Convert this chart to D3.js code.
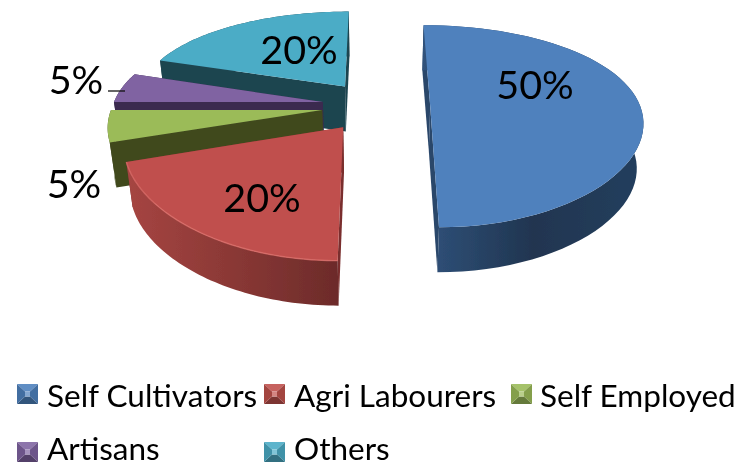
<!DOCTYPE html>
<html><head><meta charset="utf-8">
<script src="https://cdn.jsdelivr.net/npm/d3@7"></script>
<style>html,body{margin:0;padding:0;background:#fff;overflow:hidden}svg{display:block}text{font-family:Lato,"Open Sans",sans-serif;fill:#000}</style>
</head><body>
<svg id="c" width="753" height="466"></svg>
<script>
const categories = ["Self Cultivators","Agri Labourers","Self Employed","Artisans","Others"];
const values = [50,20,5,5,20];
const valueLabels = ["50%","20%","5%","5%","20%"];
const topColors = ["#4f81bd","#c0504d","#9bbb59","#8064a2","#4bacc6"];
const wallColors = ["#2a476b","#7a2f2d","#40491f","#3a2b50","#1f4450"];
const rimStops = [["#30527b","#203550","#243f5e"],["#a64542","#8a3835","#6c2b2a"],["#40491f","#40491f","#40491f"],["#3a2b50","#3a2b50","#3a2b50"],["#1f4450","#1f4450","#1f4450"]];
const labelPos = [[535,99],[262,212],[74,198],[76,94],[299,64]];
const legendMarkers = [[17,384],[264,384],[511,384],[17,442],[264,442]];
const legendText = [[47,407],[294,407],[540,407],[47,460],[294,460]];

const svg=d3.select("#c");
const defs=svg.append("defs");
defs.append("filter").attr("id","soft").attr("x","-5%").attr("y","-5%").attr("width","110%").attr("height","110%")
  .append("feGaussianBlur").attr("stdDeviation",0.55);

const x0=376,y0=106,A=210,B=97,ky=0.2,kx=0.14,explode=0.258,depth=45,shrink=0.975;
const xS=d3.scaleLinear().domain([-1,1]).range([x0-A,x0+A]);
const yS=d3.scaleLinear().domain([-1,1]).range([y0-B,y0+B]);
const project=(u,v)=>[xS(u/(1-kx*v)),yS(v/(1-ky*v))];
const arcs=d3.pie().sort(null).startAngle(0).endAngle(2*Math.PI)(values);
const line=d3.line();
const geom=d=>{
  const mid=(d.startAngle+d.endAngle)/2, ex=explode*Math.sin(mid), ey=-explode*Math.cos(mid);
  const pt=(a,r)=>project(ex+r*Math.sin(a),ey-r*Math.cos(a));
  const rim=d3.range(0,61).map(i=>pt(d.startAngle+(d.endAngle-d.startAngle)*i/60,1));
  return {apex:pt(0,0),rim};
};
const down=p=>[x0+(p[0]-x0)*shrink,p[1]+depth];

rimStops.forEach((s,i)=>{
  const g=defs.append("linearGradient").attr("id","rim"+i);
  s.forEach((c,j)=>g.append("stop").attr("offset",j/(s.length-1)).attr("stop-color",c));
});

const pie=svg.append("g").attr("filter","url(#soft)");
d3.range(arcs.length).reverse().forEach(i=>{
  const g=geom(arcs[i]), first=g.rim[0], last=g.rim[g.rim.length-1];
  const s=pie.append("g").attr("class","slice");
  s.append("path").attr("d",line([g.apex,first,down(first),down(g.apex)])+"Z").attr("fill",wallColors[i]);
  s.append("path").attr("d",line([g.apex,last,down(last),down(g.apex)])+"Z").attr("fill",wallColors[i]);
  s.append("path").attr("d",line(g.rim.concat(g.rim.map(down).reverse()))+"Z").attr("fill",`url(#rim${i})`);
  s.append("path").attr("d",line([g.apex].concat(g.rim))+"Z").attr("fill",topColors[i]);
  if(i===1) s.append("path").attr("d",line(g.rim)).attr("fill","none").attr("stroke","#d96c68").attr("stroke-width",1.4).attr("stroke-opacity",.8);
});

// leader line for the Artisans label
svg.append("line").attr("x1",108).attr("x2",125).attr("y1",91).attr("y2",91).attr("stroke","#111").attr("stroke-width",1.3);

const txt=svg.append("g").attr("filter","url(#soft)");
valueLabels.forEach((t,i)=>{
  txt.append("text").attr("x",labelPos[i][0]).attr("y",labelPos[i][1]).attr("text-anchor","middle")
    .attr("font-size",39.5).text(t);
});

const shade=(c,f)=>f>0?d3.interpolateRgb(c,"#fff")(f):d3.interpolateRgb(c,"#000")(-f);
const mw=21,mh=20;
categories.forEach((name,i)=>{
  const [lx,t]=legendMarkers[i], c=topColors[i];
  const cx=lx+mw/2, cy=t+mh/2, m=2.5;
  const TL=[lx,t],TR=[lx+mw,t],BR=[lx+mw,t+mh],BL=[lx,t+mh];
  const iTL=[cx-m,cy-m],iTR=[cx+m,cy-m],iBR=[cx+m,cy+m],iBL=[cx-m,cy+m];
  const g=txt.append("g");
  [[TL,TR,iTR,iTL,0.1],[TR,BR,iBR,iTR,-0.15],[BR,BL,iBL,iBR,-0.35],[BL,TL,iTL,iBL,-0.15],[iTL,iTR,iBR,iBL,0.3]].forEach(q=>{
    g.append("path").attr("d",line(q.slice(0,4))+"Z").attr("fill",shade(c,q[4]));
  });
  txt.append("text").attr("x",legendText[i][0]).attr("y",legendText[i][1]).attr("font-size",31.5).text(name);
});
</script>
</body></html>
